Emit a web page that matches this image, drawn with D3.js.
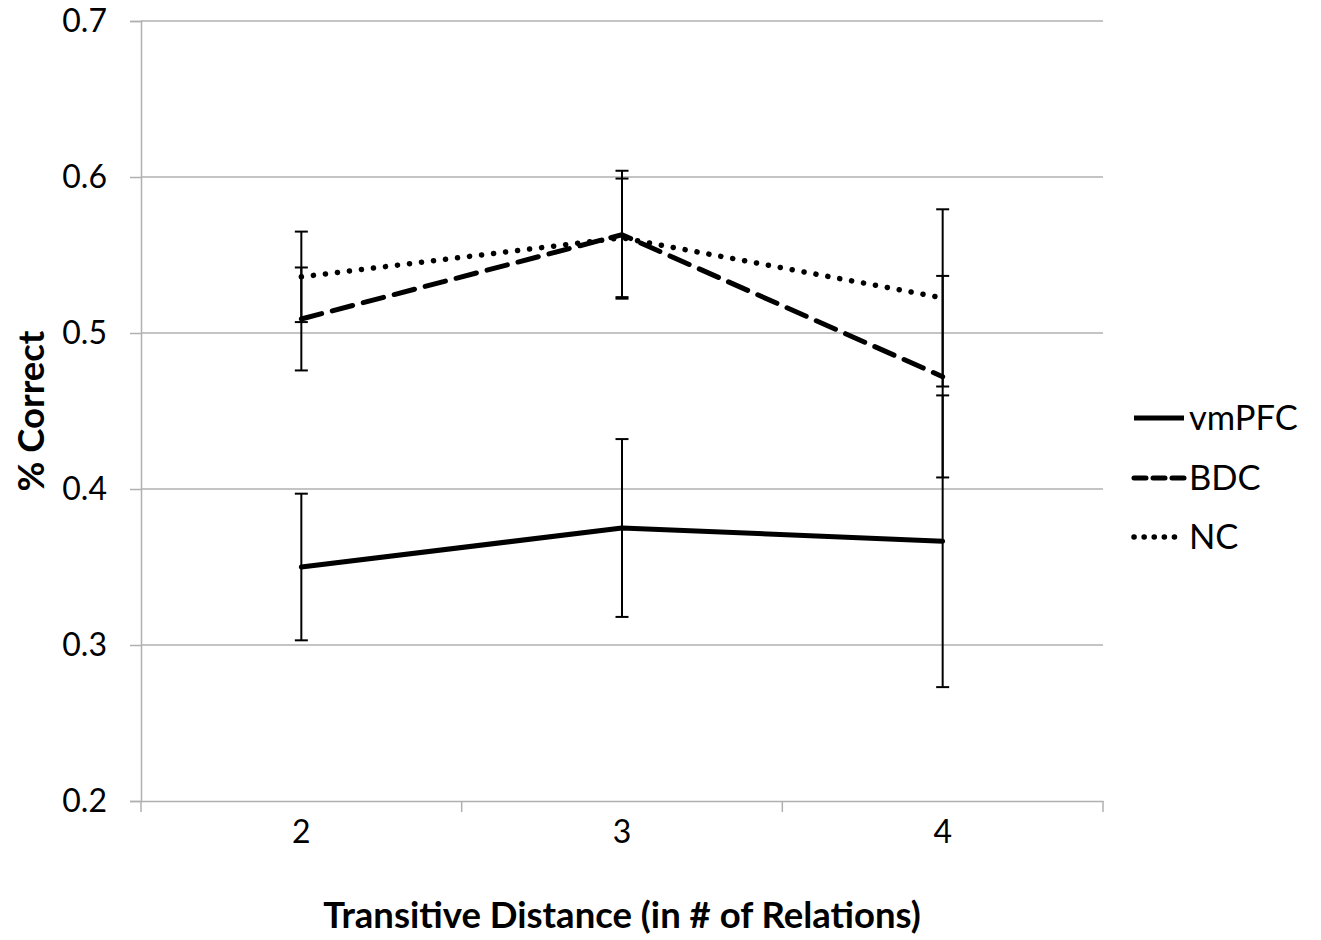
<!DOCTYPE html>
<html>
<head>
<meta charset="utf-8">
<script src="https://cdn.jsdelivr.net/npm/d3@7/dist/d3.min.js"></script>
<style>
  html, body { margin: 0; padding: 0; background: #fff; }
  svg { display: block; font-family: Lato, "Open Sans", sans-serif; }
</style>
</head>
<body>
<svg id="chart" width="1321" height="940"></svg>
<script>
// Transitive distance categories
const categories = ["2", "3", "4"];
const seriesNames = ["vmPFC", "BDC", "NC"];

// Mean proportion correct per group
const vmPFC = [0.350, 0.375, 0.3665];
const BDC   = [0.509, 0.563, 0.472];
const NC    = [0.536, 0.561, 0.5225];

// Error bar half-widths per group
const vmPFCErr = [0.047, 0.057, 0.0935];
const BDCErr   = [0.033, 0.041, 0.0646];
const NCErr    = [0.029, 0.038, 0.0568];

const yTicks = [0.2, 0.3, 0.4, 0.5, 0.6, 0.7];

const styles = {
  vmPFC: { width: 5, dash: null, cap: "round" },
  BDC:   { width: 5, dash: "21 11", cap: "round" },
  NC:    { width: 5.5, dash: "0.1 12", cap: "round" }
};

const series = [
  { name: "vmPFC", values: vmPFC, err: vmPFCErr },
  { name: "BDC", values: BDC, err: BDCErr },
  { name: "NC", values: NC, err: NCErr }
];

const svg = d3.select("#chart");
const plot = { left: 141, right: 1103, top: 21, bottom: 801 };

const x = d3.scaleBand().domain(categories).range([plot.left, plot.right]).padding(0);
const y = d3.scaleLinear().domain([0.2, 0.7]).range([plot.bottom, plot.top]);
const cx = c => x(c) + x.bandwidth() / 2;

const grey = "#b0b0b0";

// Horizontal gridlines
svg.append("g")
  .selectAll("line")
  .data(yTicks.slice(1))
  .join("line")
  .attr("x1", plot.left).attr("x2", plot.right)
  .attr("y1", d => y(d)).attr("y2", d => y(d))
  .attr("stroke", grey).attr("stroke-width", 1.5);

// Y axis
const yAxis = svg.append("g")
  .attr("transform", `translate(${plot.left},0)`)
  .call(d3.axisLeft(y).tickValues(yTicks).tickFormat(d3.format(".1f")).tickSizeOuter(0).tickSize(11).tickPadding(23));
yAxis.select(".domain").attr("stroke", grey).attr("stroke-width", 1.5);
yAxis.selectAll(".tick line").attr("stroke", grey).attr("stroke-width", 1.5);
yAxis.selectAll(".tick text")
  .attr("font-size", 32).attr("fill", "#000").attr("font-family", "Lato, sans-serif");

// X axis
const xAxis = svg.append("g")
  .attr("transform", `translate(0,${plot.bottom})`)
  .call(d3.axisBottom(x).tickSize(0).tickPadding(19));
xAxis.select(".domain").attr("stroke", grey).attr("stroke-width", 1.5);
xAxis.selectAll(".tick text")
  .attr("font-size", 32).attr("fill", "#000").attr("font-family", "Lato, sans-serif")
  .attr("dy", "0.71em");
// Category boundary ticks
const boundaries = categories.map(c => x(c)).concat([plot.right]);
svg.append("g")
  .selectAll("line")
  .data(boundaries)
  .join("line")
  .attr("x1", d => d).attr("x2", d => d)
  .attr("y1", plot.bottom).attr("y2", plot.bottom + 11)
  .attr("stroke", grey).attr("stroke-width", 1.5);

// Series lines
const line = d3.line()
  .x((d, i) => cx(categories[i]))
  .y(d => y(d));

svg.append("g")
  .selectAll("path")
  .data(series)
  .join("path")
  .attr("d", d => line(d.values))
  .attr("fill", "none")
  .attr("stroke", "#000")
  .attr("stroke-width", d => styles[d.name].width)
  .attr("stroke-dasharray", d => styles[d.name].dash)
  .attr("stroke-linecap", d => styles[d.name].cap)
  .attr("stroke-linejoin", "round");

// Error bars
const errData = series.flatMap(s => s.values.map((v, i) => ({
  c: categories[i], lo: v - s.err[i], hi: v + s.err[i]
})));
const eb = svg.append("g").attr("stroke", "#000").attr("stroke-width", 2);
eb.selectAll("line.v")
  .data(errData)
  .join("line")
  .attr("class", "v")
  .attr("x1", d => cx(d.c)).attr("x2", d => cx(d.c))
  .attr("y1", d => y(d.lo)).attr("y2", d => y(d.hi));
eb.selectAll("line.lo")
  .data(errData)
  .join("line")
  .attr("class", "lo")
  .attr("x1", d => cx(d.c) - 6.5).attr("x2", d => cx(d.c) + 6.5)
  .attr("y1", d => y(d.lo)).attr("y2", d => y(d.lo));
eb.selectAll("line.hi")
  .data(errData)
  .join("line")
  .attr("class", "hi")
  .attr("x1", d => cx(d.c) - 6.5).attr("x2", d => cx(d.c) + 6.5)
  .attr("y1", d => y(d.hi)).attr("y2", d => y(d.hi));

// Axis titles
svg.append("text")
  .attr("x", (plot.left + plot.right) / 2).attr("y", 928)
  .attr("text-anchor", "middle")
  .attr("font-size", 36.5).attr("font-weight", "bold")
  .text("Transitive Distance (in # of Relations)");

svg.append("text")
  .attr("transform", `translate(44,${(plot.top + plot.bottom) / 2}) rotate(-90)`)
  .attr("text-anchor", "middle")
  .attr("font-size", 36.5).attr("font-weight", "bold")
  .text("% Correct");

// Legend
const legendY = [418, 478, 537];
const lg = svg.append("g")
  .selectAll("g")
  .data(seriesNames)
  .join("g")
  .attr("transform", (d, i) => `translate(1134,${legendY[i]})`);
lg.append("line")
  .attr("x1", 0).attr("x2", 50).attr("y1", 0).attr("y2", 0)
  .attr("stroke", "#000")
  .attr("stroke-width", d => styles[d].width)
  .attr("stroke-dasharray", d => d === "BDC" ? "12 7" : d === "NC" ? "0.1 10" : null)
  .attr("stroke-linecap", d => d === "vmPFC" ? "butt" : "round");
lg.append("text")
  .attr("x", 55).attr("y", 0).attr("dy", "0.35em")
  .attr("font-size", 34.5)
  .text(d => d);
</script>
</body>
</html>
